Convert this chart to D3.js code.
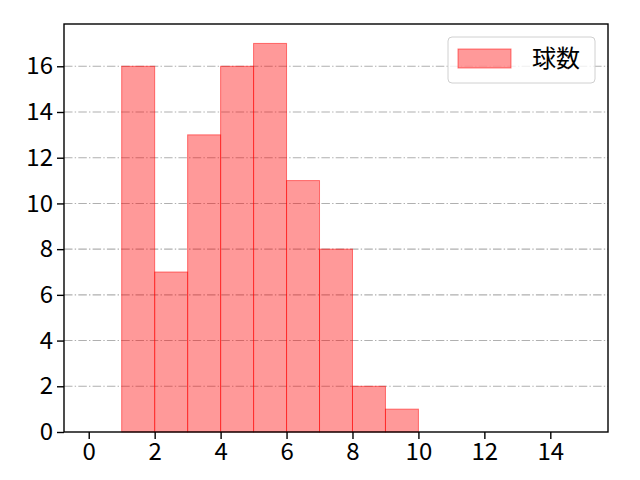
<!DOCTYPE html>
<html>
<head>
<meta charset="utf-8">
<script src="https://cdn.jsdelivr.net/npm/d3@7"></script>
<style>
body{margin:0;background:#fff;}
text{font-family:"Noto Sans CJK JP","Noto Sans",sans-serif;fill:#000;}
</style>
</head>
<body>
<div id="canvas"></div>
<script>
// histogram bins (left edge, count)
var binStart = [1,2,3,4,5,6,7,8,9];
var binCount = [16,7,13,16,17,11,8,2,1];
var xTicks = [0,2,4,6,8,10,12,14];
var yTicks = [0,2,4,6,8,10,12,14,16];
var seriesName = "球数";

var width = 640, height = 480;
var mLeft = 64, mRight = 608, mTop = 24, mBottom = 432;

var svg = d3.select("#canvas").append("svg")
	.attr("width",width).attr("height",height);

var x = d3.scaleLinear().domain([-0.75,15.75]).range([mLeft,mRight]);
var y = d3.scaleLinear().domain([0,17.85]).range([mBottom,mTop]);

// grid
svg.append("g").selectAll("line").data(yTicks.slice(1)).enter().append("line")
	.attr("x1",mLeft).attr("x2",mRight)
	.attr("y1",function(d){return y(d);}).attr("y2",function(d){return y(d);})
	.attr("stroke","#b0b0b0").attr("stroke-width",1.1)
	.attr("stroke-dasharray","8.5,2.2,1.4,2.2");

// bars
svg.append("g").selectAll("rect").data(binStart).enter().append("rect")
	.attr("x",function(d){return x(d);})
	.attr("width",function(d){return x(d+1)-x(d);})
	.attr("y",function(d,i){return y(binCount[i]);})
	.attr("height",function(d,i){return mBottom-y(binCount[i]);})
	.attr("fill","rgba(255,0,0,0.4)")
	.attr("stroke","rgba(255,0,0,0.5)")
	.attr("stroke-width",1);

// axes
var xa = svg.append("g").attr("transform","translate(0,"+mBottom+")")
	.call(d3.axisBottom(x).tickValues(xTicks).tickSize(7).tickPadding(4).tickFormat(d3.format("d")));
var ya = svg.append("g").attr("transform","translate("+mLeft+",0)")
	.call(d3.axisLeft(y).tickValues(yTicks).tickSize(7).tickPadding(4).tickFormat(d3.format("d")));
[xa,ya].forEach(function(a){
	a.select(".domain").remove();
	a.selectAll("line").attr("stroke","#000").attr("stroke-width",1.4);
	a.selectAll("text").style("font-size","24px").attr("fill","#000");
});

// frame
svg.append("rect").attr("x",mLeft).attr("y",mTop)
	.attr("width",mRight-mLeft).attr("height",mBottom-mTop)
	.attr("fill","none").attr("stroke","#000").attr("stroke-width",1.4);

// legend
var lg = svg.append("g");
lg.append("rect").attr("x",448).attr("y",37).attr("width",147).attr("height",46)
	.attr("rx",4).attr("fill","rgba(255,255,255,0.8)").attr("stroke","#d0d0d0");
lg.append("rect").attr("x",458).attr("y",49).attr("width",53).attr("height",19)
	.attr("fill","rgba(255,0,0,0.4)").attr("stroke","rgba(255,0,0,0.5)");
lg.append("text").attr("x",532).attr("y",67).style("font-size","24px").text(seriesName);
</script>
</body>
</html>
